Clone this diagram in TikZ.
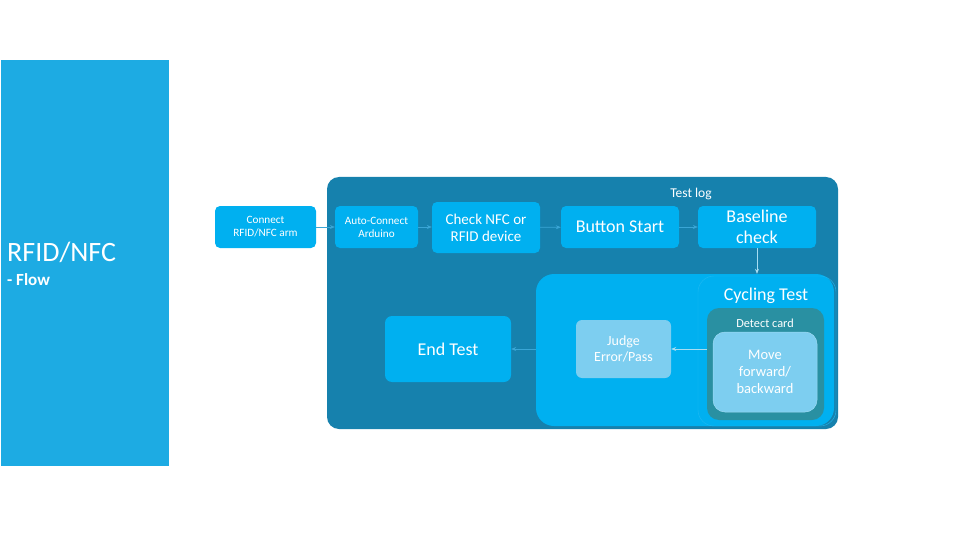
\documentclass[tikz,border=0pt]{standalone}
\usepackage{fontspec}
\setmainfont{Carlito}
\usetikzlibrary{arrows.meta}
\definecolor{panel}{HTML}{1DABE3}
\definecolor{deep}{HTML}{1681AD}
\definecolor{bright}{HTML}{00B0F0}
\definecolor{teal}{HTML}{2990A2}
\definecolor{pale}{HTML}{7DCEF0}
\definecolor{link}{HTML}{3AA6D6}
\definecolor{palelink}{HTML}{A6DDF2}

\begin{document}
\begin{tikzpicture}[x=1pt, y=-1pt, blk/.style={rectangle, rounded corners=5, fill=bright, text=white, align=center, inner sep=0pt}, lite/.style={rectangle, rounded corners=6, fill=pale, text=white, align=center, inner sep=0pt}, n/.style={-{Stealth[length=5pt, width=4pt]}, line width=0.6pt, draw=link}, m/.style={-{Stealth[length=5pt, width=4pt]}, line width=0.6pt, draw=palelink}]
                \useasboundingbox (0,0) rectangle (955,540);
                % containers
                \fill[panel] (1,60) rectangle (169,466);
                \node[rectangle, rounded corners=12, fill=deep, minimum width=511, minimum height=252, inner sep=0pt] (log) at (582.5,303) {};
                \node[rectangle, rounded corners=18, fill=bright, minimum width=298, minimum height=152, inner sep=0pt] (cyc) at (685,350) {};
                \node[rectangle, rounded corners=16, draw=bright!88!white, line width=0.4pt, minimum width=138, minimum height=150, inner sep=0pt] (cycin) at (767,351) {};
                \node[rectangle, rounded corners=12, fill=teal, minimum width=117, minimum height=112, inner sep=0pt] (card) at (765.5,364) {};
                % titles
                \node[text=white, font=\fontsize{28}{30}\selectfont, anchor=west, inner sep=0pt] (title) at (7,252) {RFID/NFC};
                \node[text=white, font=\bfseries\fontsize{17}{19}\selectfont, anchor=west, inner sep=0pt] (flow) at (7,280) {- Flow};
                \node[text=white, font=\fontsize{13.5}{15}\selectfont] (logtxt) at (691,194) {Test log};
                \node[text=white, font=\fontsize{18}{20}\selectfont] (cyctxt) at (766,296) {Cycling Test};
                \node[text=white, font=\fontsize{12.3}{14}\selectfont] (cardtxt) at (765,323) {Detect card};
                % nodes
                \node[blk, minimum width=101, minimum height=42, font=\fontsize{11.2}{13}\selectfont] (arm) at (265.5,227) {Connect\\RFID/NFC arm};
                \node[blk, minimum width=83, minimum height=42, font=\fontsize{11.2}{13}\selectfont] (ardu) at (376.5,227) {Auto-Connect\\Arduino};
                \node[blk, minimum width=108, minimum height=51, font=\fontsize{15}{17}\selectfont] (chk) at (486,227.5) {Check NFC or\\RFID device};
                \node[blk, minimum width=118, minimum height=42, font=\fontsize{18}{20}\selectfont] (btn) at (620,227) {Button Start};
                \node[blk, minimum width=118, minimum height=42, font=\fontsize{18}{21}\selectfont] (base) at (757,227) {Baseline\\check};
                \node[lite, rounded corners=12, draw=white!25!pale, line width=0.5pt, minimum width=104, minimum height=80, font=\fontsize{14.5}{17}\selectfont] (move) at (765,372) {Move\\forward/\\backward};
                \node[lite, minimum width=95, minimum height=58, font=\fontsize{14}{16.5}\selectfont] (judge) at (623.5,349) {Judge\\Error/Pass};
                \node[blk, rounded corners=7, minimum width=126, minimum height=66, font=\fontsize{18}{20}\selectfont] (endt) at (448,349) {End Test};
                % edges
                \draw[n] (arm) -- (ardu);
                \draw[n] (ardu) -- (ardu -| chk.west);
                \draw[n] (chk) -- (btn);
                \draw[n] (btn) -- (base);
                \draw[m] (base.south) -- (cyc.north -| base.south);
                \draw[m] (card.west |- judge.east) -- (judge.east);
                \draw[n] (cyc.west |- endt.east) -- (endt.east);
            \end{tikzpicture}
\end{document}
